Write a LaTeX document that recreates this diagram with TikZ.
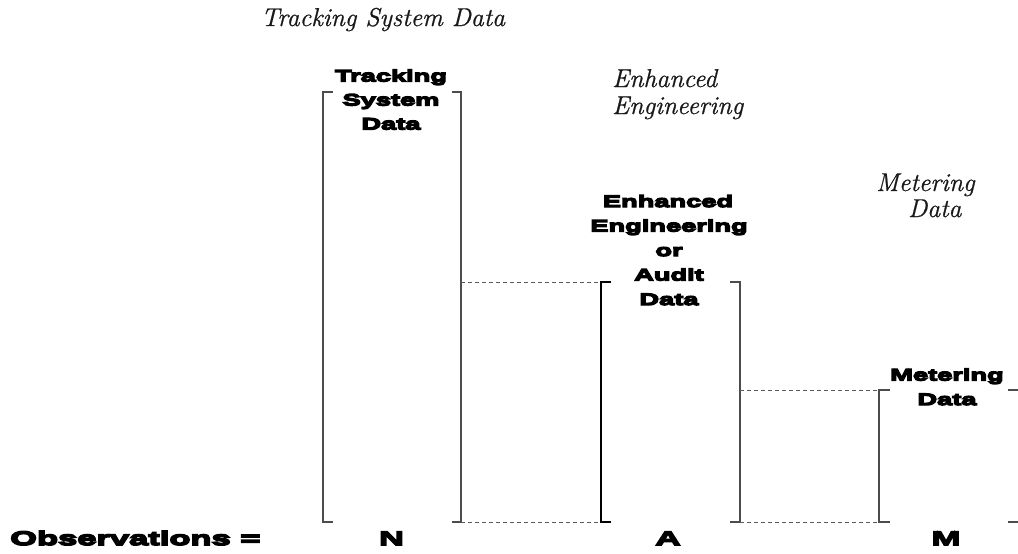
\documentclass[tikz,border=0pt]{standalone}
\usepackage{fontspec}
\newfontfamily\hvhead[FakeStretch=1.65,FakeBold=8]{Liberation Sans Bold}
\newfontfamily\hvobs[FakeStretch=1.77,FakeBold=8]{Liberation Sans Bold}
\newfontfamily\itl[FakeBold=0.8]{Latin Modern Roman}
\begin{document}
\begin{tikzpicture}[x=1pt,y=-1pt,
  bracket/.style={draw=black!70,line width=1.1pt},
  boldbracket/.style={draw=black,line width=1.8pt},
  dashline/.style={draw=black!65,line width=0.9pt,dash pattern=on 4pt off 3pt},
  head/.style={font=\hvhead\fontsize{16.5}{19}\selectfont,anchor=base,inner sep=0pt},
  obs/.style={font=\hvobs\fontsize{19.5}{22}\selectfont,anchor=base,inner sep=0pt},
  ital/.style={font=\itl\itshape\fontsize{25.8}{28}\selectfont,anchor=base west,inner sep=0pt,text=black!90}]
\useasboundingbox (0,0) rectangle (1018,554);
% corner coordinates
\coordinate (b1tl) at (323,92);
\coordinate (b1bl) at (323,522);
\coordinate (b1tr) at (461,92);
\coordinate (b1br) at (461,522);
\coordinate (b2tl) at (601,282);
\coordinate (b2bl) at (601,522);
\coordinate (b2tr) at (740,282);
\coordinate (b2br) at (740,522);
\coordinate (b3tl) at (879,390);
\coordinate (b3bl) at (879,522);
\coordinate (b3tr) at (1018,390);
\coordinate (b3br) at (1018,522);
% box 1
\draw[bracket] ([xshift=10pt]b1tl) -- (b1tl) -- (b1bl) -- ([xshift=10pt]b1bl);
\draw[bracket] ([xshift=-9pt]b1tr) -- (b1tr) -- (b1br) -- ([xshift=-9pt]b1br);
% box 2
\draw[boldbracket] ([xshift=10pt]b2tl) -- (b2tl) -- (b2bl) -- ([xshift=10pt]b2bl);
\draw[bracket] ([xshift=-10pt]b2tr) -- (b2tr) -- (b2br) -- ([xshift=-10pt]b2br);
% box 3
\draw[bracket] ([xshift=11pt]b3tl) -- (b3tl) -- (b3bl) -- ([xshift=11pt]b3bl);
\draw[bracket] ([xshift=-10pt]b3tr) -- (b3tr);
\draw[bracket] ([xshift=-10pt]b3br) -- (b3br);
% dashed connectors
\draw[dashline] (b1tr |- b2tl) -- (b2tl);
\draw[dashline] (b1br) -- (b2bl);
\draw[dashline] (b2tr |- b3tl) -- (b3tl);
\draw[dashline] (b2br) -- (b3bl);
% italic titles
\node[ital] (t1) at (261,26) {Tracking System Data};
\node[ital] (t2a) at (612,87) {Enhanced};
\node[ital] (t2b) at (612,114) {Engineering};
\node[ital] (t3a) at (876,191) {Metering};
\node[ital] (t3b) at (908,217) {Data};
% bold headings
\node[head] (h1a) at (391,81.5) {Tracking};
\node[head] (h1b) at (391,105.5) {System};
\node[head] (h1c) at (391,129.5) {Data};
\node[head] (h2a) at (668,207) {Enhanced};
\node[head] (h2b) at (669,231.5) {Engineering};
\node[head] (h2c) at (669,256) {or};
\node[head] (h2d) at (669,280.5) {Audit};
\node[head] (h2e) at (669,305) {Data};
\node[head] (h3a) at (947,380.5) {Metering};
\node[head] (h3b) at (947,405) {Data};
% bottom labels
\node[obs,anchor=base west] (obsl) at (10,545) {Observations =};
\node[obs] (n) at (391.5,545) {N};
\node[obs] (a) at (668,545) {A};
\node[obs] (m) at (946,545) {M};
\end{tikzpicture}
\end{document}
